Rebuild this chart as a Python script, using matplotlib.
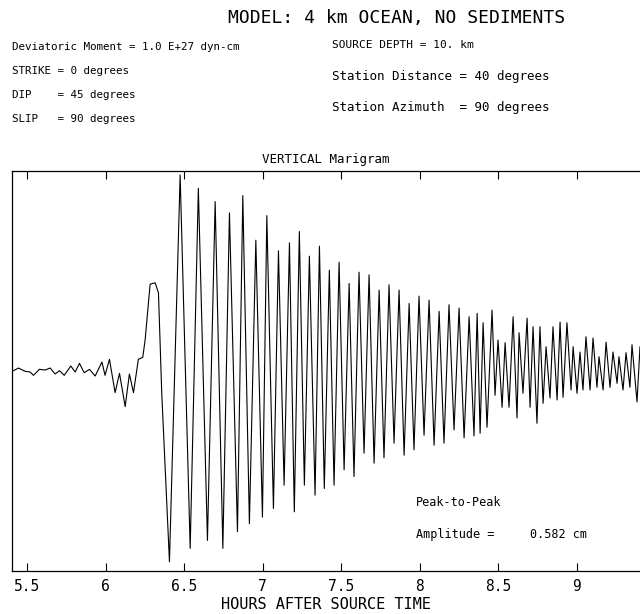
"""Marigram of a modelled tsunami: vertical sea surface displacement
at a station 40 degrees away (4 km ocean, no sediments)."""

import matplotlib
matplotlib.use("Agg")
import matplotlib.pyplot as plt

# extrema of the trace: time in hours, amplitude in cm
hours = [5.405, 5.445, 5.487, 5.519, 5.540, 5.578, 5.615, 5.646, 5.678, 5.706,
         5.736, 5.778, 5.806, 5.833, 5.863, 5.897, 5.933, 5.976, 5.996, 6.024,
         6.060, 6.088, 6.124, 6.151, 6.177, 6.208, 6.236, 6.251, 6.283, 6.315,
         6.336, 6.357, 6.406, 6.474, 6.538, 6.590, 6.648, 6.697, 6.746, 6.788,
         6.839, 6.873, 6.915, 6.956, 6.998, 7.026, 7.068, 7.100, 7.136, 7.170,
         7.201, 7.233, 7.265, 7.297, 7.333, 7.361, 7.392, 7.424,
         7.454, 7.486, 7.518, 7.550, 7.581, 7.613, 7.645, 7.677, 7.709, 7.741,
         7.772, 7.804, 7.836, 7.868, 7.900, 7.932, 7.963, 7.995, 8.027, 8.059,
         8.091, 8.123, 8.154, 8.186, 8.218, 8.250, 8.282, 8.314, 8.345, 8.365,
         8.384, 8.403, 8.428, 8.460, 8.479, 8.498, 8.524, 8.543, 8.568, 8.594,
         8.619, 8.632, 8.657, 8.683, 8.702, 8.721, 8.746, 8.765, 8.785, 8.804,
         8.829, 8.848, 8.874, 8.893, 8.912, 8.937, 8.963, 8.976, 9.001, 9.020,
         9.039, 9.058, 9.084, 9.103, 9.128, 9.141, 9.167, 9.186, 9.211, 9.230,
         9.256, 9.268, 9.294, 9.313, 9.338, 9.351, 9.383, 9.402]
height_cm = [-0.002, 0.003, -0.002, -0.003, -0.008, 0.001, 0.000, 0.003, -0.006, -0.001,
             -0.008, 0.006, -0.003, 0.010, -0.004, 0.001, -0.009, 0.012, -0.008, 0.016,
             -0.034, -0.005, -0.055, -0.006, -0.034, 0.016, 0.019, 0.045, 0.129, 0.131,
             0.116, -0.035, -0.288, 0.293, -0.268, 0.273, -0.256, 0.253, -0.268, 0.236,
             -0.243, 0.262, -0.231, 0.195, -0.221, 0.232, -0.208, 0.179, -0.173, 0.191,
             -0.213, 0.208, -0.173, 0.171, -0.188, 0.186, -0.178, 0.150,
             -0.173, 0.162, -0.150, 0.130, -0.160, 0.147, -0.125, 0.143, -0.140, 0.120,
             -0.132, 0.128, -0.110, 0.120, -0.128, 0.100, -0.120, 0.111, -0.098, 0.105,
             -0.113, 0.088, -0.110, 0.098, -0.090, 0.093, -0.102, 0.080, -0.099, 0.085,
             -0.095, 0.071, -0.086, 0.090, -0.038, 0.045, -0.056, 0.041, -0.056, 0.080,
             -0.072, 0.056, -0.035, 0.078, -0.056, 0.065, -0.080, 0.065, -0.050, 0.035,
             -0.042, 0.065, -0.045, 0.072, -0.041, 0.071, -0.030, 0.035, -0.035, 0.027,
             -0.030, 0.050, -0.030, 0.048, -0.026, 0.020, -0.030, 0.042, -0.026, 0.027,
             -0.020, 0.020, -0.030, 0.026, -0.026, 0.038, -0.048, 0.035]

tick_hours = [5.5, 6, 6.5, 7, 7.5, 8, 8.5, 9]
tick_labels = ["5.5", "6", "6.5", "7", "7.5", "8", "8.5", "9"]

mono = "DejaVu Sans Mono"
plt.rcParams["font.family"] = mono

fig = plt.figure(figsize=(6.4, 6.14), dpi=100)
ax = fig.add_axes([0.019, 0.070, 0.981, 0.6515])

ax.plot(hours, height_cm, color="black", lw=0.8)

ax.set_xlim(5.4045, 9.402)
ax.set_ylim(-0.302, 0.299)
ax.set_yticks([])
ax.set_xticks(tick_hours)
ax.set_xticklabels(tick_labels, fontsize=10.5)
ax.tick_params(axis="x", direction="in", top=True, bottom=True, length=6,
               width=0.8, pad=6)
ax.spines["right"].set_visible(False)
for s in ["left", "top", "bottom"]:
    ax.spines[s].set_linewidth(0.9)
ax.set_xlabel("HOURS AFTER SOURCE TIME", fontsize=11, labelpad=2)

ax.set_title("VERTICAL Marigram", fontsize=9, pad=6)

# header block
fig.text(0.62, 0.9707, "MODEL: 4 km OCEAN, NO SEDIMENTS", fontsize=13,
         ha="center", va="center")
left_lines = ["Deviatoric Moment = 1.0 E+27 dyn-cm",
              "STRIKE = 0 degrees",
              "DIP    = 45 degrees",
              "SLIP   = 90 degrees"]
for txt, yy in zip(left_lines, [0.9235, 0.8844, 0.8453, 0.8062]):
    fig.text(0.019, yy, txt, fontsize=7.8, ha="left", va="center")

fig.text(0.519, 0.9267, "SOURCE DEPTH = 10. km", fontsize=8,
         ha="left", va="center")
fig.text(0.519, 0.8746, "Station Distance = 40 degrees", fontsize=9,
         ha="left", va="center")
fig.text(0.519, 0.8257, "Station Azimuth  = 90 degrees", fontsize=9,
         ha="left", va="center")

fig.text(0.65, 0.1808, "Peak-to-Peak", fontsize=8.5, ha="left", va="center")
fig.text(0.65, 0.1287, "Amplitude =     0.582 cm", fontsize=8.5,
         ha="left", va="center")

fig.savefig("out.png", dpi=100)
